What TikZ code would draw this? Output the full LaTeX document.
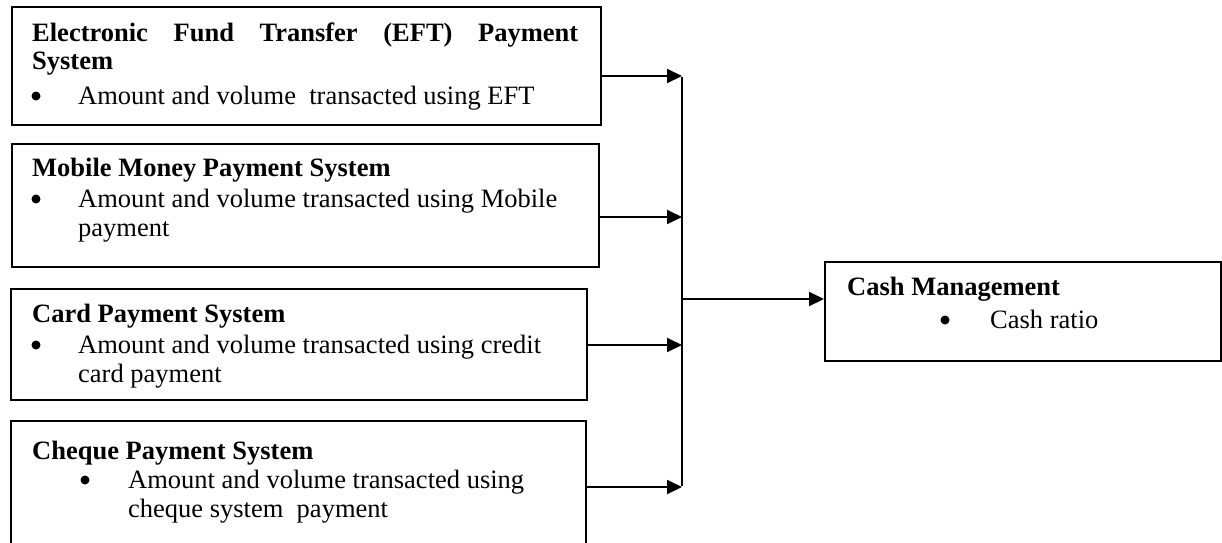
\documentclass[tikz,border=0pt]{standalone}
\usepackage{fontspec}
\setmainfont{Liberation Serif}
\usetikzlibrary{arrows.meta}
\begin{document}
\begin{tikzpicture}[x=1pt,y=-1pt,
  box/.style={draw,line width=1.6pt,rectangle,anchor=north west,inner sep=0pt},
  txt/.style={anchor=base west,inner sep=0pt,font=\fontsize{26.5}{30}\selectfont},
  head/.style={txt,font=\fontsize{26.5}{30}\selectfont\bfseries},
  bul/.style={circle,fill,inner sep=0pt,minimum size=9pt},
  link/.style={line width=2pt},
  arr/.style={line width=2pt,-{Triangle[length=15pt,width=14pt]}}]
\useasboundingbox (0,0) rectangle (1222,542);
% boxes
\node[box,minimum width=589pt,minimum height=118pt] (b1) at (11,6) {};
\node[box,minimum width=587pt,minimum height=123pt] (b2) at (11,143) {};
\node[box,minimum width=576pt,minimum height=111pt] (b3) at (10,288) {};
\node[box,minimum width=575pt,minimum height=126pt] (b4) at (10,420) {};
\node[box,minimum width=396pt,minimum height=99pt] (cash) at (824,261) {};
% box 1 text
\node[head] (t1a) at (32,41) {\makebox[546pt][s]{Electronic Fund Transfer (EFT) Payment}};
\node[head] (t1b) at (32,69) {System};
\node[bul] (p1) at (36,96) {};
\node[txt] (t1c) at (78,104) {Amount and volume\ \ transacted using EFT};
% box 2 text
\node[head] (t2a) at (32,176) {Mobile Money Payment System};
\node[bul] (p2) at (36,199) {};
\node[txt] (t2b) at (78,207) {Amount and volume transacted using Mobile};
\node[txt] (t2c) at (78,236) {payment};
% box 3 text
\node[head] (t3a) at (32,322) {Card Payment System};
\node[bul] (p3) at (36,345) {};
\node[txt] (t3b) at (78,353) {Amount and volume transacted using credit};
\node[txt] (t3c) at (78,382) {card payment};
% box 4 text
\node[head] (t4a) at (32,459) {Cheque Payment System};
\node[bul] (p4) at (85,480) {};
\node[txt] (t4b) at (128,488) {Amount and volume transacted using};
\node[txt] (t4c) at (128,517) {cheque system\ \ payment};
% cash text
\node[head] (tca) at (847,295) {Cash Management};
\node[bul] (pc) at (945,320) {};
\node[txt] (tcb) at (990,328) {Cash ratio};
% junctions
\coordinate (j1) at (682,76);
\coordinate (j2) at (682,217);
\coordinate (j3) at (682,345);
\coordinate (j4) at (682,487);
\coordinate (jc) at (682,299);
% connectors
\draw[arr] (b1.east |- j1) -- (j1);
\draw[arr] (b2.east |- j2) -- (j2);
\draw[arr] (b3.east |- j3) -- (j3);
\draw[arr] (b4.east |- j4) -- (j4);
\draw[link] ([yshift=-1pt]j1) -- ([yshift=1pt]j4);
\draw[arr] (jc) -- (cash.west |- jc);
\end{tikzpicture}
\end{document}
